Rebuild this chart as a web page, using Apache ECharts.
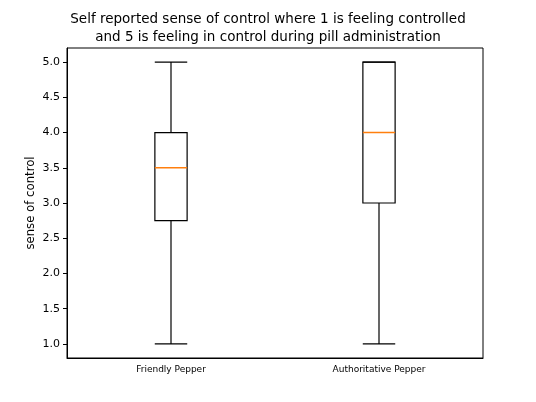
<!DOCTYPE html>
<html>
<head>
<meta charset="utf-8">
<script src="https://cdn.jsdelivr.net/npm/echarts@6/dist/echarts.min.js"></script>
<style>
  html, body { margin: 0; padding: 0; background: #fff; }
  #chart { width: 536px; height: 402px; }
</style>
</head>
<body>
<div id="chart"></div>
<script>
// box plot values
const categories = ["Friendly Pepper", "Authoritative Pepper"];
const mins = [1.0, 1.0];
const q1s = [2.75, 3.0];
const medians = [3.5, 4.0];
const q3s = [4.0, 5.0];
const maxs = [5.0, 5.0];
const yTicks = [1.0, 1.5, 2.0, 2.5, 3.0, 3.5, 4.0, 4.5, 5.0];

const boxData = categories.map((c, i) => [i, mins[i], q1s[i], medians[i], q3s[i], maxs[i]]);

const chart = echarts.init(document.getElementById("chart"));

function renderBox(params, api) {
  const i = api.value(0);
  const x = api.coord([i, 0])[0];
  const band = api.size([1, 0])[0];
  const bw = band * 0.155;
  const cw = band * 0.078;
  const y = (k) => api.coord([i, api.value(k)])[1];
  const yMin = y(1), yQ1 = y(2), yMed = y(3), yQ3 = y(4), yMax = y(5);
  const line = { stroke: "#000", lineWidth: 1.2 };
  return {
    type: "group",
    children: [
      { type: "line", shape: { x1: x, y1: yQ1, x2: x, y2: yMin }, style: line },
      { type: "line", shape: { x1: x, y1: yQ3, x2: x, y2: yMax }, style: line },
      { type: "line", shape: { x1: x - cw, y1: yMin, x2: x + cw, y2: yMin }, style: line },
      { type: "line", shape: { x1: x - cw, y1: yMax, x2: x + cw, y2: yMax }, style: line },
      { type: "rect", shape: { x: x - bw / 2, y: yQ3, width: bw, height: yQ1 - yQ3 },
        style: { fill: "none", stroke: "#000", lineWidth: 1.2 } },
      { type: "line", shape: { x1: x - bw / 2, y1: yMed, x2: x + bw / 2, y2: yMed },
        style: { stroke: "#ff7f0e", lineWidth: 1.4 } }
    ]
  };
}

let option = {
  animation: false,
  title: {
    text: "Self reported sense of control where 1 is feeling controlled\nand 5 is feeling in control during pill administration",
    left: "center",
    top: 5,
    textStyle: {
      fontFamily: "DejaVu Sans",
      fontSize: 13.5,
      fontWeight: "normal",
      color: "#000",
      lineHeight: 18
    }
  },
  grid: {
    left: 67, right: 53, top: 48, bottom: 44,
    show: true, borderColor: "#000", borderWidth: 1
  },
  xAxis: {
    type: "category",
    data: categories,
    boundaryGap: true,
    axisLine: { lineStyle: { color: "#000", width: 1 } },
    axisTick: { alignWithLabel: true, length: 4, lineStyle: { color: "#000" } },
    axisLabel: { fontFamily: "DejaVu Sans", fontSize: 9, color: "#000", margin: 7 },
    splitLine: { show: false }
  },
  yAxis: {
    type: "value",
    min: 0.8,
    max: 5.2,
    name: "sense of control",
    nameLocation: "middle",
    nameGap: 30,
    nameMoveOverlap: false,
    nameTextStyle: { fontFamily: "DejaVu Sans", fontSize: 11.7, color: "#000" },
    axisLine: { show: true, lineStyle: { color: "#000", width: 1 } },
    axisTick: { show: true, length: 4, customValues: yTicks, lineStyle: { color: "#000" } },
    axisLabel: {
      customValues: yTicks,
      fontFamily: "DejaVu Sans", fontSize: 11, color: "#000", margin: 7,
      formatter: (v) => Number(v).toFixed(1)
    },
    splitLine: { show: false }
  },
  series: [
    {
      type: "custom",
      renderItem: renderBox,
      encode: { x: 0, y: [1, 2, 3, 4, 5] },
      data: boxData
    }
  ]
};

chart.setOption(option);
</script>
</body>
</html>
